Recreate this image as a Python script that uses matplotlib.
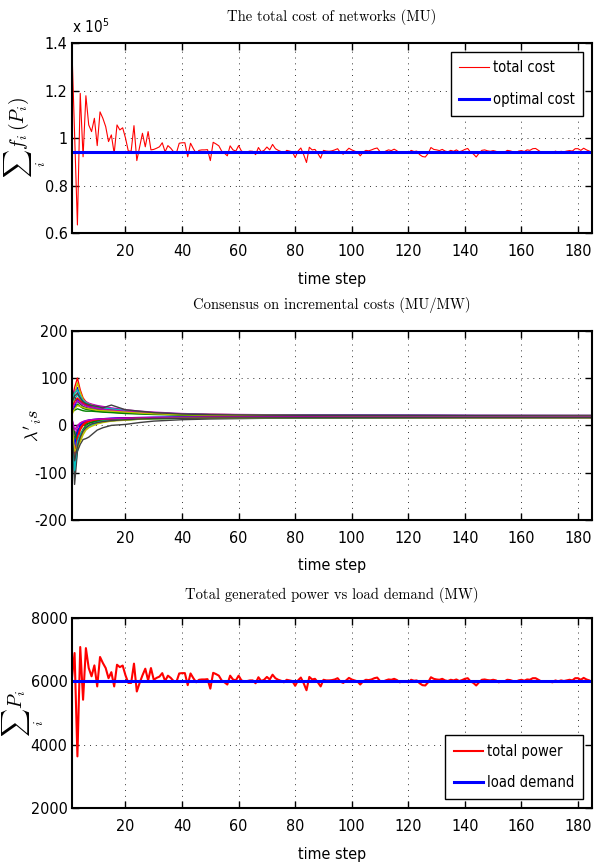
import numpy as np
import matplotlib.pyplot as plt
from matplotlib.ticker import MultipleLocator, FuncFormatter

plt.rcParams['font.family'] = ['Liberation Sans Narrow', 'DejaVu Sans', 'Liberation Sans']
plt.rcParams['font.stretch'] = 'condensed'
plt.rcParams['mathtext.fontset'] = 'cm'

steps = np.arange(1, 186)

# total cost of networks, in units of 1e5 MU
total_cost = [
    1.40, 1.02, 0.634, 1.188, 0.921, 1.178, 1.055, 1.027, 1.083, 0.968,
    1.110, 1.083, 1.048, 0.985, 1.013, 0.935, 1.055, 1.034, 1.043, 1.000,
    0.945, 0.945, 1.052, 0.905, 0.963, 1.020, 0.963, 1.027, 0.950, 0.952,
    0.957, 0.963, 0.980, 0.942, 0.968, 0.957, 0.942, 0.937, 0.978, 0.980,
    0.980, 0.921, 0.978, 0.955, 0.935, 0.948, 0.950, 0.950, 0.951, 0.905,
    0.982, 0.975, 0.967, 0.945, 0.936, 0.925, 0.967, 0.950, 0.945, 0.968,
    0.945, 0.940, 0.942, 0.945, 0.944, 0.930, 0.960, 0.942, 0.948, 0.962,
    0.950, 0.973, 0.955, 0.948, 0.943, 0.935, 0.948, 0.945, 0.942, 0.918,
    0.945, 0.958, 0.930, 0.897, 0.961, 0.950, 0.952, 0.935, 0.915, 0.948,
    0.945, 0.944, 0.946, 0.950, 0.955, 0.938, 0.932, 0.945, 0.957, 0.950,
    0.945, 0.940, 0.925, 0.940, 0.948, 0.946, 0.950, 0.955, 0.958, 0.942,
    0.938, 0.945, 0.950, 0.947, 0.953, 0.946, 0.935, 0.942, 0.940, 0.936,
    0.948, 0.943, 0.945, 0.930, 0.922, 0.920, 0.935, 0.960, 0.952, 0.950,
    0.947, 0.952, 0.945, 0.942, 0.948, 0.944, 0.950, 0.942, 0.946, 0.952,
    0.956, 0.940, 0.933, 0.920, 0.936, 0.948, 0.950, 0.946, 0.944, 0.947,
    0.944, 0.936, 0.942, 0.940, 0.948, 0.946, 0.942, 0.938, 0.945, 0.947,
    0.943, 0.950, 0.948, 0.955, 0.956, 0.948, 0.940, 0.938, 0.942, 0.939,
    0.935, 0.945, 0.940, 0.944, 0.942, 0.945, 0.947, 0.945, 0.955, 0.955,
    0.948, 0.957, 0.950, 0.945, 0.935,
]
optimal_cost = 0.94

# total generated power (MW)
total_power = [
    6040, 6895, 3630, 7085, 5420, 7050, 6420, 6160, 6505, 5840,
    6770, 6580, 6420, 6100, 6290, 5840, 6525, 6450, 6500, 6190,
    5950, 5950, 6560, 5680, 5950, 6190, 6400, 6030, 6420, 6050,
    6110, 6150, 6260, 6010, 6180, 6110, 6010, 5980, 6250, 6260,
    6260, 5880, 6250, 6100, 5970, 6050, 6060, 6060, 6070, 5770,
    6270, 6230, 6180, 6030, 5970, 5900, 6180, 6060, 6030, 6180,
    6030, 6000, 6010, 6030, 6030, 5940, 6130, 6010, 6050, 6140,
    6060, 6210, 6100, 6050, 6020, 5970, 6050, 6030, 6010, 5860,
    6030, 6120, 5940, 5720, 6140, 6060, 6080, 5970, 5840, 6050,
    6030, 6030, 6040, 6060, 6100, 5990, 5950, 6030, 6110, 6060,
    6030, 6000, 5900, 6000, 6050, 6040, 6060, 6100, 6120, 6010,
    5990, 6030, 6060, 6050, 6080, 6040, 5970, 6010, 6000, 5970,
    6050, 6020, 6030, 5940, 5880, 5870, 5970, 6130, 6080, 6060,
    6050, 6080, 6030, 6010, 6050, 6030, 6060, 6010, 6040, 6080,
    6100, 6000, 5950, 5870, 5970, 6050, 6060, 6040, 6030, 6050,
    6030, 5970, 6010, 6000, 6050, 6040, 6010, 5990, 6030, 6050,
    6020, 6060, 6050, 6100, 6100, 6050, 6000, 5990, 6010, 5990,
    5970, 6030, 6000, 6030, 6010, 6030, 6050, 6030, 6100, 6100,
    6050, 6110, 6060, 6030, 5970,
]
load_demand = 6000

# incremental costs of the agents (MU/MW)
lam_steps = [1, 2, 3, 4, 5, 6, 7, 8, 10, 12, 15, 20, 25, 30, 40, 50, 70, 100, 140, 185]
lam_values = [
    [45, 70, 80, 62, 52, 46, 42, 40, 36, 34, 31, 28, 26, 25, 23, 22, 21.5, 21, 20.5, 20],
    [30, 38, 45, 40, 36, 34, 33, 32, 30, 29, 28, 26, 25, 24, 22.5, 21.5, 21, 20.5, 20, 20],
    [50, 80, 100, 75, 58, 50, 46, 44, 40, 37, 34, 30, 28, 26, 24, 23, 22, 21.5, 21, 21],
    [35, 55, 65, 55, 48, 44, 40, 38, 35, 33, 31, 29, 27, 25, 23, 22, 21, 20.5, 20, 20],
    [60, 75, 70, 60, 54, 50, 47, 45, 42, 40, 37, 33, 30, 28, 25, 23.5, 22.5, 22, 21.5, 21],
    [40, 65, 90, 70, 55, 48, 45, 43, 39, 36, 33, 29, 27, 25, 23, 22, 21, 20.5, 20, 20],
    [78, 60, 50, 45, 40, 38, 36, 35, 34, 33, 33, 30, 27, 25, 23, 22, 21, 20.5, 20, 19.5],
    [25, 40, 55, 50, 45, 42, 40, 39, 37, 35, 32, 29, 27, 25, 23, 22, 21.5, 21, 20.5, 20],
    [28, 32, 35, 33, 31, 30, 30, 30, 29, 28, 27, 25, 24, 23, 21.5, 21, 20.5, 20, 19.5, 19.5],
    [38, 50, 58, 52, 47, 44, 42, 41, 38, 36, 33, 30, 28, 26, 24, 23, 22, 21, 20.5, 20.5],
    [55, 68, 75, 62, 53, 48, 45, 42, 39, 37, 35, 31, 28, 26, 24.5, 23, 22, 21.5, 21, 21],
    [32, 45, 52, 48, 44, 41, 39, 38, 36, 34, 32, 30, 28, 26, 24, 22.5, 21.5, 21, 20.5, 20],
    [22, 35, 42, 40, 38, 36, 35, 34, 32, 31, 30, 28, 26, 24.5, 22.5, 21.5, 21, 20, 19.5, 19.5],
    [48, 62, 68, 58, 50, 46, 44, 42, 40, 37, 43, 33, 30, 27, 24, 22.5, 21.5, 21, 20.5, 20],
    [10, -60, -20, 0, 5, 8, 10, 11, 12, 13, 14, 15, 15.5, 16, 16.5, 17, 17, 17.5, 17.5, 17.5],
    [15, -30, -10, -5, 0, 3, 5, 6, 8, 9, 10, 12, 13, 14, 15, 15.5, 16, 16.5, 17, 17],
    [5, -85, -40, -10, 0, 5, 8, 10, 12, 13, 14, 15, 16, 16.5, 17, 17, 17.5, 17.5, 18, 18],
    [8, -100, -55, -30, -15, -5, 0, 3, 7, 9, 11, 13, 14, 15, 15.5, 16, 16.5, 17, 17, 17],
    [18, -20, -5, 5, 8, 10, 11, 12, 13, 14, 15, 16, 16.5, 17, 17.5, 17.5, 18, 18, 18, 18],
    [12, -45, -50, -30, -15, -8, -3, 0, 4, 7, 10, 12, 13.5, 14.5, 15, 15.5, 16, 16.5, 16.5, 16.5],
    [20, -125, -55, -40, -30, -28, -25, -20, -10, -5, 0, 2, 6, 9, 12, 13.5, 15, 15.5, 16, 16],
    [0, -40, -15, 0, 6, 9, 11, 12, 13, 14, 15, 16, 16.5, 17, 17.5, 17.5, 18, 18, 18, 18],
    [14, -15, -35, -20, -8, 0, 4, 7, 10, 12, 13, 14, 15, 15.5, 16, 16.5, 17, 17, 17, 17],
    [2, -70, -25, -5, 3, 7, 9, 10, 12, 13, 14, 15, 15.5, 16, 16.5, 17, 17, 17.5, 17.5, 17.5],
    [10, -95, -35, -20, -10, -5, -2, 0, 5, 8, 10, 12, 13, 14, 15, 15.5, 16, 16.5, 17, 17],
    [16, -10, 0, 5, 8, 10, 11, 12, 13, 13.5, 14, 15, 15.5, 16, 16.5, 17, 17.5, 17.5, 17.5, 17.5],
    [6, -55, -45, -35, -20, -10, -5, -2, 3, 6, 9, 11, 13, 14, 15, 15.5, 16, 16.5, 16.5, 16.5],
    [-20, -75, -45, -25, -12, -5, 0, 3, 6, 8, 10, 12, 13.5, 14.5, 15, 15.5, 16, 16.5, 16.5, 16.5],
]
lam_colors = ['#0000ff', '#008000', '#ff0000', '#00bfbf', '#bf00bf', '#bfbf00', '#404040']

fig = plt.figure(figsize=(6.03, 8.65), dpi=100)
ax1 = fig.add_axes([0.119, 0.7306, 0.863, 0.2197])
ax2 = fig.add_axes([0.119, 0.399, 0.863, 0.2185])
ax3 = fig.add_axes([0.119, 0.0659, 0.863, 0.2196])

title_font = dict(family='cmr10', size=10.5)
leg_opts = dict(fontsize=10.5, frameon=True, fancybox=False, edgecolor='black',
                framealpha=1, handlelength=2.0, handletextpad=0.3,
                borderaxespad=0.6, labelspacing=1.15, borderpad=0.6)


def style(ax):
    ax.set_xlim(1, 185)
    ax.xaxis.set_major_locator(MultipleLocator(20))
    ax.tick_params(direction='in', top=True, right=True, length=5, width=1,
                   labelsize=11.5)
    ax.tick_params(axis='x', pad=8)
    ax.tick_params(axis='y', pad=3)
    ax.grid(True, linestyle=(0, (1, 5)), color='#333333', linewidth=0.7)
    for s in ax.spines.values():
        s.set_linewidth(1.5)
    ax.set_xlabel('time step', fontsize=11.5, labelpad=9)
    ax.yaxis.set_major_formatter(FuncFormatter(lambda v, p: '%g' % v))


# top: total cost
ax1.plot(steps, total_cost, color='red', lw=0.8, label='total cost')
ax1.plot(steps, [optimal_cost] * len(steps), color='blue', lw=2.2, label='optimal cost')
ax1.set_ylim(0.6, 1.4)
ax1.yaxis.set_major_locator(MultipleLocator(0.2))
style(ax1)
ax1.set_title('The total cost of networks (MU)', fontdict=title_font, pad=16)
ax1.set_ylabel(r'$\sum_i\, f_i\,(P_i)$', fontsize=14)
ax1.yaxis.set_label_coords(-0.046, 0.5)
ax1.text(0.0, 1.035, r'x 10$^{\mathregular{5}}$', transform=ax1.transAxes,
         fontsize=11, ha='left', va='bottom')
leg1 = ax1.legend(loc='upper right', **leg_opts)
leg1.get_frame().set_linewidth(1.0)

# middle: consensus on incremental costs
for i, vals in enumerate(lam_values):
    ax2.plot(lam_steps, vals, color=lam_colors[i % 7], lw=1.0)
ax2.set_ylim(-200, 200)
ax2.yaxis.set_major_locator(MultipleLocator(100))
style(ax2)
ax2.set_title('Consensus on incremental costs (MU/MW)', fontdict=title_font, pad=16)
ax2.set_ylabel(r"$\lambda'_i s$", fontsize=13)
ax2.yaxis.set_label_coords(-0.053, 0.5)

# bottom: total power vs load demand
ax3.plot(steps, total_power, color='red', lw=1.5, label='total power')
ax3.plot(steps, [load_demand] * len(steps), color='blue', lw=2.2, label='load demand')
ax3.set_ylim(2000, 8000)
ax3.yaxis.set_major_locator(MultipleLocator(2000))
style(ax3)
ax3.set_title('Total generated power vs load demand (MW)', fontdict=title_font, pad=14)
ax3.set_ylabel(r'$\sum_i\, P_i$', fontsize=14)
ax3.yaxis.set_label_coords(-0.05, 0.5)
leg3 = ax3.legend(loc='lower right', **leg_opts)
leg3.get_frame().set_linewidth(1.0)

fig.savefig('out.png', dpi=100)
